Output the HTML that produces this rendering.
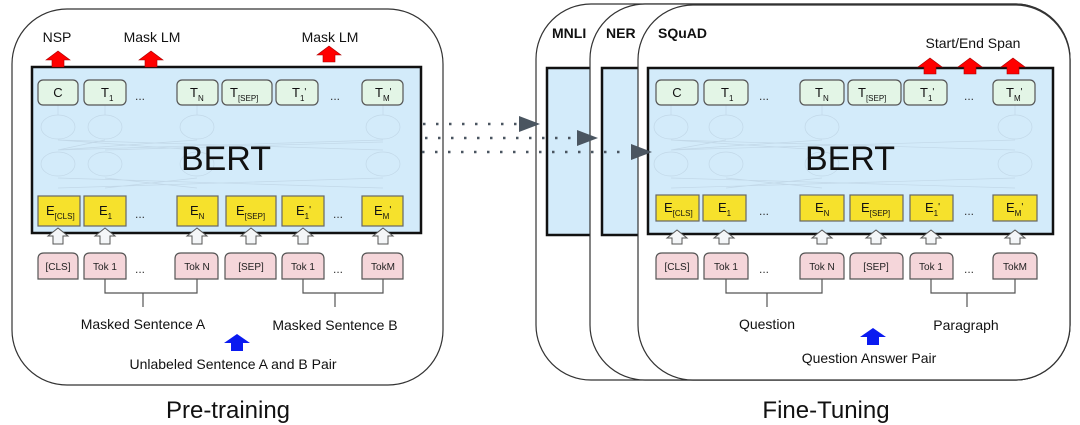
<!DOCTYPE html>
<html><head><meta charset="utf-8"><style>
html,body{margin:0;padding:0;background:#fff;}
svg{display:block;font-family:"Liberation Sans",Arial,sans-serif;}
.t{fill:#e3f5e6;stroke:#555;stroke-width:1.2}
.e{fill:#f6e12c;stroke:#666;stroke-width:1.2}
.k{fill:#f5d6da;stroke:#555;stroke-width:1.2}
.n{fill:none;stroke:#c2d8e8;stroke-width:0.7}
.w{fill:#f4f6f8;stroke:#555;stroke-width:1}
.r{fill:#f00;stroke:#a00;stroke-width:0.6}
.bl{fill:#0a1af0}
.lab{font-size:13px;fill:#111}
.sub{font-size:8px}
.tok{font-size:10px;fill:#222}
.dots{font-size:12px;fill:#333}
</style></head><body>
<svg width="1080" height="425" viewBox="0 0 1080 425">
<rect x="12" y="9" width="431" height="376" rx="55" fill="#fff" stroke="#333" stroke-width="1.2"/>
<rect x="32" y="67" width="389" height="166" fill="#d3ebfa" stroke="#111" stroke-width="2.5"/>
<rect x="536" y="4" width="534" height="376" rx="55" fill="#fff" stroke="#333" stroke-width="1.2"/>
<rect x="547" y="68" width="60" height="167" fill="#d3ebfa" stroke="#111" stroke-width="2.5"/>
<rect x="590" y="4" width="480" height="376" rx="55" fill="#fff" stroke="#333" stroke-width="1.2"/>
<rect x="602" y="68" width="50" height="167" fill="#d3ebfa" stroke="#111" stroke-width="2.5"/>
<rect x="638" y="5" width="432" height="375" rx="55" fill="#fff" stroke="#333" stroke-width="1.2"/>
<rect x="648" y="68" width="405" height="166" fill="#d3ebfa" stroke="#111" stroke-width="2.5"/>

<g class="n">
<ellipse cx="58" cy="127" rx="17" ry="12"/><ellipse cx="105" cy="127" rx="17" ry="12"/><ellipse cx="197" cy="127" rx="17" ry="12"/><ellipse cx="383" cy="127" rx="17" ry="12"/>
<ellipse cx="58" cy="164" rx="17" ry="12"/><ellipse cx="105" cy="164" rx="17" ry="12"/><ellipse cx="197" cy="164" rx="17" ry="12"/><ellipse cx="383" cy="164" rx="17" ry="12"/>
<path d="M58 140 L383 150 M58 150 L383 140 M105 140 L58 150 M58 140 L197 150 M197 140 L58 150 M105 150 L383 142 M58 178 L383 188 M58 188 L383 178 M105 178 L197 188 M197 178 L105 188 M58 105 V115 M105 105 V115 M197 105 V115 M383 105 V115"/>
<ellipse cx="671" cy="127" rx="17" ry="12"/><ellipse cx="726" cy="127" rx="17" ry="12"/><ellipse cx="822" cy="127" rx="17" ry="12"/><ellipse cx="1015" cy="127" rx="17" ry="12"/>
<ellipse cx="671" cy="164" rx="17" ry="12"/><ellipse cx="726" cy="164" rx="17" ry="12"/><ellipse cx="822" cy="164" rx="17" ry="12"/><ellipse cx="1015" cy="164" rx="17" ry="12"/>
<path d="M671 140 L1015 150 M671 150 L1015 140 M726 140 L671 150 M671 140 L822 150 M822 140 L671 150 M671 178 L1015 188 M671 188 L1015 178 M726 178 L822 188 M822 178 L726 188 M671 105 V115 M726 105 V115 M822 105 V115 M1015 105 V115"/>
</g>
<text x="226" y="170" font-size="34" text-anchor="middle" fill="#111">BERT</text>
<text x="850" y="170" font-size="34" text-anchor="middle" fill="#111">BERT</text>

<g>
<rect class="t" x="38" y="80" width="40" height="25" rx="5"/><text class="lab" x="58" y="97" text-anchor="middle">C</text>
<rect class="t" x="84" y="80" width="42" height="25" rx="5"/><text class="lab" x="101" y="97">T<tspan class="sub" dy="4">1</tspan></text>
<text class="dots" x="140" y="100" text-anchor="middle">...</text>
<rect class="t" x="177" y="80" width="41" height="25" rx="5"/><text class="lab" x="190" y="97">T<tspan class="sub" dy="4">N</tspan></text>
<rect class="t" x="222" y="80" width="50" height="25" rx="5"/><text class="lab" x="230" y="97">T<tspan class="sub" dy="4">[SEP]</tspan></text>
<rect class="t" x="276" y="80" width="42" height="25" rx="5"/><text class="lab" x="292" y="97">T<tspan class="sub" dy="4">1</tspan><tspan dy="-6" font-size="10">'</tspan></text>
<text class="dots" x="335" y="100" text-anchor="middle">...</text>
<rect class="t" x="362" y="80" width="41" height="25" rx="5"/><text class="lab" x="375" y="97">T<tspan class="sub" dy="4">M</tspan><tspan dy="-6" font-size="10">'</tspan></text>
</g>
<g>
<rect class="e" x="38" y="196" width="42" height="30"/><text class="lab" x="46" y="215">E<tspan class="sub" dy="4">[CLS]</tspan></text>
<rect class="e" x="84" y="196" width="42" height="30"/><text class="lab" x="99" y="215">E<tspan class="sub" dy="4">1</tspan></text>
<text class="dots" x="140" y="218" text-anchor="middle">...</text>
<rect class="e" x="177" y="196" width="41" height="30"/><text class="lab" x="190" y="215">E<tspan class="sub" dy="4">N</tspan></text>
<rect class="e" x="226" y="196" width="50" height="30"/><text class="lab" x="236" y="215">E<tspan class="sub" dy="4">[SEP]</tspan></text>
<rect class="e" x="282" y="196" width="42" height="30"/><text class="lab" x="296" y="215">E<tspan class="sub" dy="4">1</tspan><tspan dy="-6" font-size="10">'</tspan></text>
<text class="dots" x="338" y="218" text-anchor="middle">...</text>
<rect class="e" x="362" y="196" width="41" height="30"/><text class="lab" x="374" y="215">E<tspan class="sub" dy="4">M</tspan><tspan dy="-6" font-size="10">'</tspan></text>
</g>
<g class="w">
<path d="M48 236 L58 228 L68 236 L63 236 L63 244 L53 244 L53 236 Z"/>
<path d="M95 236 L105 228 L115 236 L110 236 L110 244 L100 244 L100 236 Z"/>
<path d="M187 236 L197 228 L207 236 L202 236 L202 244 L192 244 L192 236 Z"/>
<path d="M241 236 L251 228 L261 236 L256 236 L256 244 L246 244 L246 236 Z"/>
<path d="M293 236 L303 228 L313 236 L308 236 L308 244 L298 244 L298 236 Z"/>
<path d="M373 236 L383 228 L393 236 L388 236 L388 244 L378 244 L378 236 Z"/>
</g>
<g>
<path class="k" d="M38 279 V259 Q38 253 44 253 H72 Q78 253 78 259 V279 Z"/><text class="tok" x="58" y="270" text-anchor="middle">[CLS]</text>
<path class="k" d="M84 279 V259 Q84 253 90 253 H120 Q126 253 126 259 V279 Z"/><text class="tok" x="105" y="270" text-anchor="middle">Tok 1</text>
<text class="dots" x="140" y="273" text-anchor="middle">...</text>
<path class="k" d="M175 279 V259 Q175 253 181 253 H212 Q218 253 218 259 V279 Z"/><text class="tok" x="197" y="270" text-anchor="middle">Tok N</text>
<path class="k" d="M225 279 V259 Q225 253 231 253 H270 Q276 253 276 259 V279 Z"/><text class="tok" x="251" y="270" text-anchor="middle">[SEP]</text>
<path class="k" d="M282 279 V259 Q282 253 288 253 H318 Q324 253 324 259 V279 Z"/><text class="tok" x="303" y="270" text-anchor="middle">Tok 1</text>
<text class="dots" x="338" y="273" text-anchor="middle">...</text>
<path class="k" d="M362 279 V259 Q362 253 368 253 H397 Q403 253 403 259 V279 Z"/><text class="tok" x="383" y="270" text-anchor="middle">TokM</text>
</g>
<path d="M105 279 V293 H197 V279 M143 293 V307 M303 279 V293 H383 V279 M335 293 V307" fill="none" stroke="#555" stroke-width="1.2"/>
<text x="143" y="329" font-size="14" text-anchor="middle" fill="#111">Masked Sentence A</text>
<text x="335" y="330" font-size="14" text-anchor="middle" fill="#111">Masked Sentence B</text>
<path class="bl" d="M224 343 L237 334 L250 343 L243 343 L243 351 L231 351 L231 343 Z"/>
<text x="233" y="369" font-size="14" text-anchor="middle" fill="#111">Unlabeled Sentence A and B Pair</text>
<text x="228" y="418" font-size="24" text-anchor="middle" fill="#111">Pre-training</text>

<text x="57" y="42" font-size="14" text-anchor="middle" fill="#111">NSP</text>
<text x="152" y="42" font-size="14" text-anchor="middle" fill="#111">Mask LM</text>
<text x="330" y="42" font-size="14" text-anchor="middle" fill="#111">Mask LM</text>
<path class="r" d="M46 60 L58 51 L70 60 L64 60 L64 67 L52 67 L52 60 Z"/>
<path class="r" d="M139 60 L151 51 L163 60 L157 60 L157 67 L145 67 L145 60 Z"/>
<path class="r" d="M317 55 L329 46 L341 55 L335 55 L335 62 L323 62 L323 55 Z"/>

<g stroke="#4a5560" stroke-width="2.5" stroke-dasharray="2.5 10.5" fill="none">
<line x1="423" y1="124" x2="518" y2="124"/>
<line x1="425" y1="138" x2="576" y2="138"/>
<line x1="422" y1="152" x2="630" y2="152"/>
</g>
<g fill="#4a5560">
<path d="M519 116 L540 124 L519 132 Z"/>
<path d="M577 130 L598 138 L577 146 Z"/>
<path d="M631 144 L652 152 L631 160 Z"/>
</g>

<text x="552" y="38" font-size="14" font-weight="bold" fill="#111">MNLI</text>
<text x="606" y="38" font-size="14" font-weight="bold" fill="#111">NER</text>
<text x="658" y="38" font-size="14" font-weight="bold" fill="#111">SQuAD</text>
<text x="973" y="48" font-size="14" text-anchor="middle" fill="#111">Start/End Span</text>
<path class="r" d="M918 67 L930 58 L942 67 L936 67 L936 74 L924 74 L924 67 Z"/>
<path class="r" d="M958 67 L970 58 L982 67 L976 67 L976 74 L964 74 L964 67 Z"/>
<path class="r" d="M1001 67 L1013 58 L1025 67 L1019 67 L1019 74 L1007 74 L1007 67 Z"/>

<g>
<rect class="t" x="656" y="80" width="42" height="25" rx="5"/><text class="lab" x="677" y="97" text-anchor="middle">C</text>
<rect class="t" x="704" y="80" width="44" height="25" rx="5"/><text class="lab" x="721" y="97">T<tspan class="sub" dy="4">1</tspan></text>
<text class="dots" x="764" y="100" text-anchor="middle">...</text>
<rect class="t" x="800" y="80" width="44" height="25" rx="5"/><text class="lab" x="815" y="97">T<tspan class="sub" dy="4">N</tspan></text>
<rect class="t" x="848" y="80" width="53" height="25" rx="5"/><text class="lab" x="858" y="97">T<tspan class="sub" dy="4">[SEP]</tspan></text>
<rect class="t" x="904" y="80" width="43" height="25" rx="5"/><text class="lab" x="920" y="97">T<tspan class="sub" dy="4">1</tspan><tspan dy="-6" font-size="10">'</tspan></text>
<text class="dots" x="969" y="100" text-anchor="middle">...</text>
<rect class="t" x="993" y="80" width="42" height="25" rx="5"/><text class="lab" x="1006" y="97">T<tspan class="sub" dy="4">M</tspan><tspan dy="-6" font-size="10">'</tspan></text>
</g>
<g>
<rect class="e" x="656" y="195" width="43" height="26"/><text class="lab" x="664" y="212">E<tspan class="sub" dy="4">[CLS]</tspan></text>
<rect class="e" x="703" y="195" width="43" height="26"/><text class="lab" x="718" y="212">E<tspan class="sub" dy="4">1</tspan></text>
<text class="dots" x="764" y="215" text-anchor="middle">...</text>
<rect class="e" x="800" y="195" width="44" height="26"/><text class="lab" x="815" y="212">E<tspan class="sub" dy="4">N</tspan></text>
<rect class="e" x="850" y="195" width="53" height="26"/><text class="lab" x="861" y="212">E<tspan class="sub" dy="4">[SEP]</tspan></text>
<rect class="e" x="910" y="195" width="43" height="26"/><text class="lab" x="925" y="212">E<tspan class="sub" dy="4">1</tspan><tspan dy="-6" font-size="10">'</tspan></text>
<text class="dots" x="969" y="215" text-anchor="middle">...</text>
<rect class="e" x="993" y="195" width="44" height="26"/><text class="lab" x="1006" y="212">E<tspan class="sub" dy="4">M</tspan><tspan dy="-6" font-size="10">'</tspan></text>
</g>
<g class="w">
<path d="M667 238 L677 230 L687 238 L682 238 L682 244 L672 244 L672 238 Z"/>
<path d="M714 238 L724 230 L734 238 L729 238 L729 244 L719 244 L719 238 Z"/>
<path d="M812 238 L822 230 L832 238 L827 238 L827 244 L817 244 L817 238 Z"/>
<path d="M866 238 L876 230 L886 238 L881 238 L881 244 L871 244 L871 238 Z"/>
<path d="M921 238 L931 230 L941 238 L936 238 L936 244 L926 244 L926 238 Z"/>
<path d="M1005 238 L1015 230 L1025 238 L1020 238 L1020 244 L1010 244 L1010 238 Z"/>
</g>
<g>
<path class="k" d="M656 279 V259 Q656 253 662 253 H692 Q698 253 698 259 V279 Z"/><text class="tok" x="677" y="270" text-anchor="middle">[CLS]</text>
<path class="k" d="M704 279 V259 Q704 253 710 253 H742 Q748 253 748 259 V279 Z"/><text class="tok" x="726" y="270" text-anchor="middle">Tok 1</text>
<text class="dots" x="764" y="273" text-anchor="middle">...</text>
<path class="k" d="M800 279 V259 Q800 253 806 253 H838 Q844 253 844 259 V279 Z"/><text class="tok" x="822" y="270" text-anchor="middle">Tok N</text>
<path class="k" d="M850 279 V259 Q850 253 856 253 H897 Q903 253 903 259 V279 Z"/><text class="tok" x="876" y="270" text-anchor="middle">[SEP]</text>
<path class="k" d="M910 279 V259 Q910 253 916 253 H947 Q953 253 953 259 V279 Z"/><text class="tok" x="931" y="270" text-anchor="middle">Tok 1</text>
<text class="dots" x="969" y="273" text-anchor="middle">...</text>
<path class="k" d="M993 279 V259 Q993 253 999 253 H1031 Q1037 253 1037 259 V279 Z"/><text class="tok" x="1015" y="270" text-anchor="middle">TokM</text>
</g>
<path d="M726 279 V293 H822 V279 M767 293 V307 M931 279 V293 H1015 V279 M967 293 V307" fill="none" stroke="#555" stroke-width="1.2"/>
<text x="767" y="329" font-size="14" text-anchor="middle" fill="#111">Question</text>
<text x="966" y="330" font-size="14" text-anchor="middle" fill="#111">Paragraph</text>
<path class="bl" d="M860 337 L873 328 L886 337 L879 337 L879 345 L867 345 L867 337 Z"/>
<text x="869" y="363" font-size="14" text-anchor="middle" fill="#111">Question Answer Pair</text>
<text x="826" y="418" font-size="24" text-anchor="middle" fill="#111">Fine-Tuning</text>
</svg>
</body></html>
